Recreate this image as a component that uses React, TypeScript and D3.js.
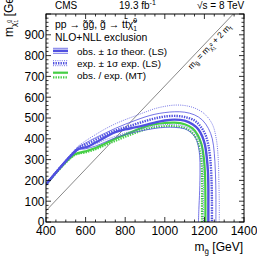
import * as d3 from 'd3';

// contours: [m_gluino, m_LSP] in GeV
const obsLS = [[400,180],[565,352],[585,356],[610,362],[650,382],[700,408],[750,432],[800,445],[850,455],[900,466],[950,478],[1000,488],[1050,492],[1100,487],[1140,470],[1170,445],[1190,410],[1203,370],[1212,310],[1218,240],[1220,160],[1220,80],[1220,0]];
const obsLSUp = [[400,185],[560,358],[600,380],[650,405],[700,428],[750,450],[800,470],[850,488],[900,505],[950,518],[1000,526],[1050,530],[1100,528],[1150,515],[1190,490],[1220,450],[1240,400],[1250,330],[1255,250],[1258,150],[1258,0]];
const obsLSDown = [[400,175],[560,345],[600,352],[650,365],[700,385],[750,405],[800,420],[850,432],[900,442],[950,450],[1000,455],[1050,455],[1100,448],[1130,432],[1155,405],[1168,370],[1176,320],[1178,250],[1176,150],[1172,60],[1170,0]];
const expLS = [[400,182],[565,355],[600,372],[650,395],[700,420],[750,440],[800,455],[850,470],[900,485],[950,498],[1000,507],[1050,510],[1100,505],[1150,488],[1180,460],[1205,420],[1220,370],[1230,300],[1236,200],[1238,100],[1238,0]];
const expLSUp = [[400,186],[560,362],[600,390],[650,420],[700,448],[750,472],[800,492],[850,510],[900,528],[950,545],[1000,556],[1050,562],[1100,560],[1150,548],[1200,520],[1240,470],[1260,400],[1270,300],[1273,200],[1275,100],[1275,0]];
const expLSDown = [[400,178],[560,348],[600,360],[650,375],[700,395],[750,412],[800,428],[850,440],[900,452],[950,462],[1000,468],[1050,468],[1100,460],[1140,440],[1170,405],[1185,360],[1192,300],[1195,200],[1195,100],[1195,0]];
const obsMT = [[400,180],[545,325],[600,340],[650,356],[700,378],[750,400],[800,420],[850,440],[900,458],[950,470],[1000,476],[1050,478],[1100,470],[1140,450],[1165,420],[1185,375],[1197,310],[1203,230],[1205,120],[1205,0]];
const expMT = [[400,180],[545,322],[600,335],[650,350],[700,370],[750,390],[800,410],[850,428],[900,445],[950,455],[1000,460],[1050,460],[1100,452],[1135,432],[1160,400],[1175,355],[1185,290],[1188,200],[1188,100],[1188,0]];

const xTicks = [400, 600, 800, 1000, 1200, 1400];
const yTicks = [0, 100, 200, 300, 400, 500, 600, 700, 800, 900];
const legendRows = ['obs. \u00b1 1\u03c3 theor. (LS)', 'exp. \u00b1 1\u03c3 exp. (LS)', 'obs. / exp. (MT)'];
const mTop = 173;

const BLUE = '#5050e0';
const GREEN = '#45cf45';

function Chi({ fs }: { fs: number }) {
  const s = fs * 0.65;
  return (
    <>
      <tspan>{'\u03c7\u0303'}</tspan>
      <tspan fontSize={s} dy={fs * 0.3}>1</tspan>
      <tspan fontSize={s} dx={-s * 0.556} dy={-fs * 0.75}>0</tspan>
    </>
  );
}

export default function App() {
  const W = 257, H = 258;
  const x = d3.scaleLinear().domain([400, 1400]).range([46, 244]);
  const y = d3.scaleLinear().domain([0, 1000]).range([222, 14]);
  const [x0, x1] = x.range();
  const [y0, y1] = y.range();

  const line = d3.line<number[]>()
    .x((d) => x(d[0]))
    .y((d) => y(d[1]))
    .curve(d3.curveCatmullRom.alpha(0.5));

  const styles: { data: number[][]; color: string; w: number; dash?: string }[] = [
    { data: expMT, color: GREEN, w: 2.2, dash: '1.4 1.1' },
    { data: obsMT, color: GREEN, w: 2.2 },
    { data: expLSUp, color: BLUE, w: 0.8, dash: '1 1.2' },
    { data: expLSDown, color: BLUE, w: 0.8, dash: '1 1.2' },
    { data: obsLSUp, color: BLUE, w: 0.8 },
    { data: obsLSDown, color: BLUE, w: 0.8 },
    { data: expLS, color: BLUE, w: 2.4, dash: '1.4 1.1' },
    { data: obsLS, color: BLUE, w: 2.4 },
  ];

  // kinematic limit
  const diag = [[400, 400 - 2 * mTop], [1000 + 2 * mTop, 1000]];
  const dx = x(diag[1][0]) - x(diag[0][0]);
  const dy = y(diag[1][1]) - y(diag[0][1]);
  const len = Math.hypot(dx, dy);
  const ang = (Math.atan2(dy, dx) * 180) / Math.PI;
  const px = x(1105) + (-dy / len) * 8;
  const py = y(1105 - 2 * mTop) + (dx / len) * 8;

  const xMinor = d3.range(400, 1401, 50);
  const yMinor = d3.range(0, 1001, 20);

  const lfs = 9.9;
  const hfs = 10.4;

  return (
    <svg width={W} height={H} style={{ position: 'absolute', left: 0, top: 0 }}
      fontFamily="'Liberation Sans', Arial, sans-serif">
      <defs>
        <clipPath id="plot">
          <rect x={x0} y={y1} width={x1 - x0} height={y0 - y1} />
        </clipPath>
      </defs>
      <rect width={W} height={H} fill="#fff" />

      <g clipPath="url(#plot)">
        <path d={line(diag) || ''} fill="none" stroke="#555" strokeWidth={0.7} />
        {styles.map((s, i) => (
          <path key={i} d={line(s.data) || ''} fill="none" stroke={s.color}
            strokeWidth={s.w} strokeDasharray={s.dash} strokeLinejoin="round" />
        ))}
      </g>

      {/* frame & ticks */}
      <rect x={x0} y={y1} width={x1 - x0} height={y0 - y1} fill="none" stroke="#000" strokeWidth={1} />
      {xMinor.map((v) => {
        const big = v % 200 === 0;
        const t = big ? 5 : 2.5;
        return (
          <g key={'x' + v} stroke="#000" strokeWidth={0.8}>
            <line x1={x(v)} x2={x(v)} y1={y0} y2={y0 - t} />
            <line x1={x(v)} x2={x(v)} y1={y1} y2={y1 + t} />
          </g>
        );
      })}
      {yMinor.map((v) => {
        const big = v % 100 === 0;
        const t = big ? 5 : 2.5;
        return (
          <g key={'y' + v} stroke="#000" strokeWidth={0.8}>
            <line x1={x0} x2={x0 + t} y1={y(v)} y2={y(v)} />
            <line x1={x1} x2={x1 - t} y1={y(v)} y2={y(v)} />
          </g>
        );
      })}
      {xTicks.map((v) => (
        <text key={'xl' + v} x={x(v)} y={235} fontSize={12} textAnchor="middle">{v}</text>
      ))}
      {yTicks.map((v) => (
        <text key={'yl' + v} x={x0 - 1.5} y={y(v)} dy="0.36em" fontSize={12} textAnchor="end">{v}</text>
      ))}

      {/* axis titles */}
      <text x={243} y={251} fontSize={12} textAnchor="end">
        m<tspan fontSize={8} dy={3}>{'g\u0303'}</tspan><tspan dy={-3}> [GeV]</tspan>
      </text>
      <text transform="translate(13,37) rotate(-90)" fontSize={12}>
        m<tspan fontSize={8} dy={3}>{'\u03c7\u0303'}</tspan>
        <tspan fontSize={5.5} dy={2}>1</tspan>
        <tspan fontSize={5.5} dx={-3} dy={-7}>0</tspan>
        <tspan fontSize={12} dy={2}> [GeV]</tspan>
      </text>

      {/* header */}
      <text x={55} y={9} fontSize={10}>CMS</text>
      <text x={119} y={9} fontSize={10}>19.3 fb<tspan fontSize={7} dy={-4}>-1</tspan></text>
      <text x={197} y={9} fontSize={10}>{'\u221as = 8 TeV'}</text>

      <text x={55} y={27.5} fontSize={hfs}>
        {'pp \u2192 g\u0303g\u0303, g\u0303 \u2192 tt\u0304'}<Chi fs={hfs} />
      </text>
      <text x={55} y={41} fontSize={hfs}>NLO+NLL exclusion</text>

      {/* legend */}
      <g>
        <line x1={53} x2={68} y1={48.3} y2={48.3} stroke={BLUE} strokeWidth={0.8} />
        <line x1={53} x2={68} y1={50.8} y2={50.8} stroke={BLUE} strokeWidth={2.4} />
        <line x1={53} x2={68} y1={53.3} y2={53.3} stroke={BLUE} strokeWidth={0.8} />

        <line x1={53} x2={68} y1={60.7} y2={60.7} stroke={BLUE} strokeWidth={0.8} strokeDasharray="1 1.2" />
        <line x1={53} x2={68} y1={63.2} y2={63.2} stroke={BLUE} strokeWidth={2.4} strokeDasharray="1.4 1.1" />
        <line x1={53} x2={68} y1={65.7} y2={65.7} stroke={BLUE} strokeWidth={0.8} strokeDasharray="1 1.2" />

        <line x1={53} x2={68} y1={72.7} y2={72.7} stroke={GREEN} strokeWidth={2.2} />
        <line x1={53} x2={68} y1={77.3} y2={77.3} stroke={GREEN} strokeWidth={2.2} strokeDasharray="1.4 1.1" />
        {legendRows.map((t, i) => (
          <text key={t} x={77} y={54.5 + i * 12.3} fontSize={lfs}>{t}</text>
        ))}
      </g>

      {/* diagonal label */}
      <text transform={`translate(${px},${py}) rotate(${ang})`} fontSize={8.5}>
        m<tspan fontSize={6} dy={2}>{'g\u0303'}</tspan>
        <tspan dy={-2}> = m</tspan>
        <tspan fontSize={6} dy={2}>{'\u03c7\u0303'}</tspan>
        <tspan fontSize={4.5} dy={1.5}>1</tspan>
        <tspan fontSize={4.5} dx={-2.5} dy={-5}>0</tspan>
        <tspan fontSize={8.5} dy={1.5}> + 2 m</tspan>
        <tspan fontSize={6} dy={2}>t</tspan>
      </text>
    </svg>
  );
}
